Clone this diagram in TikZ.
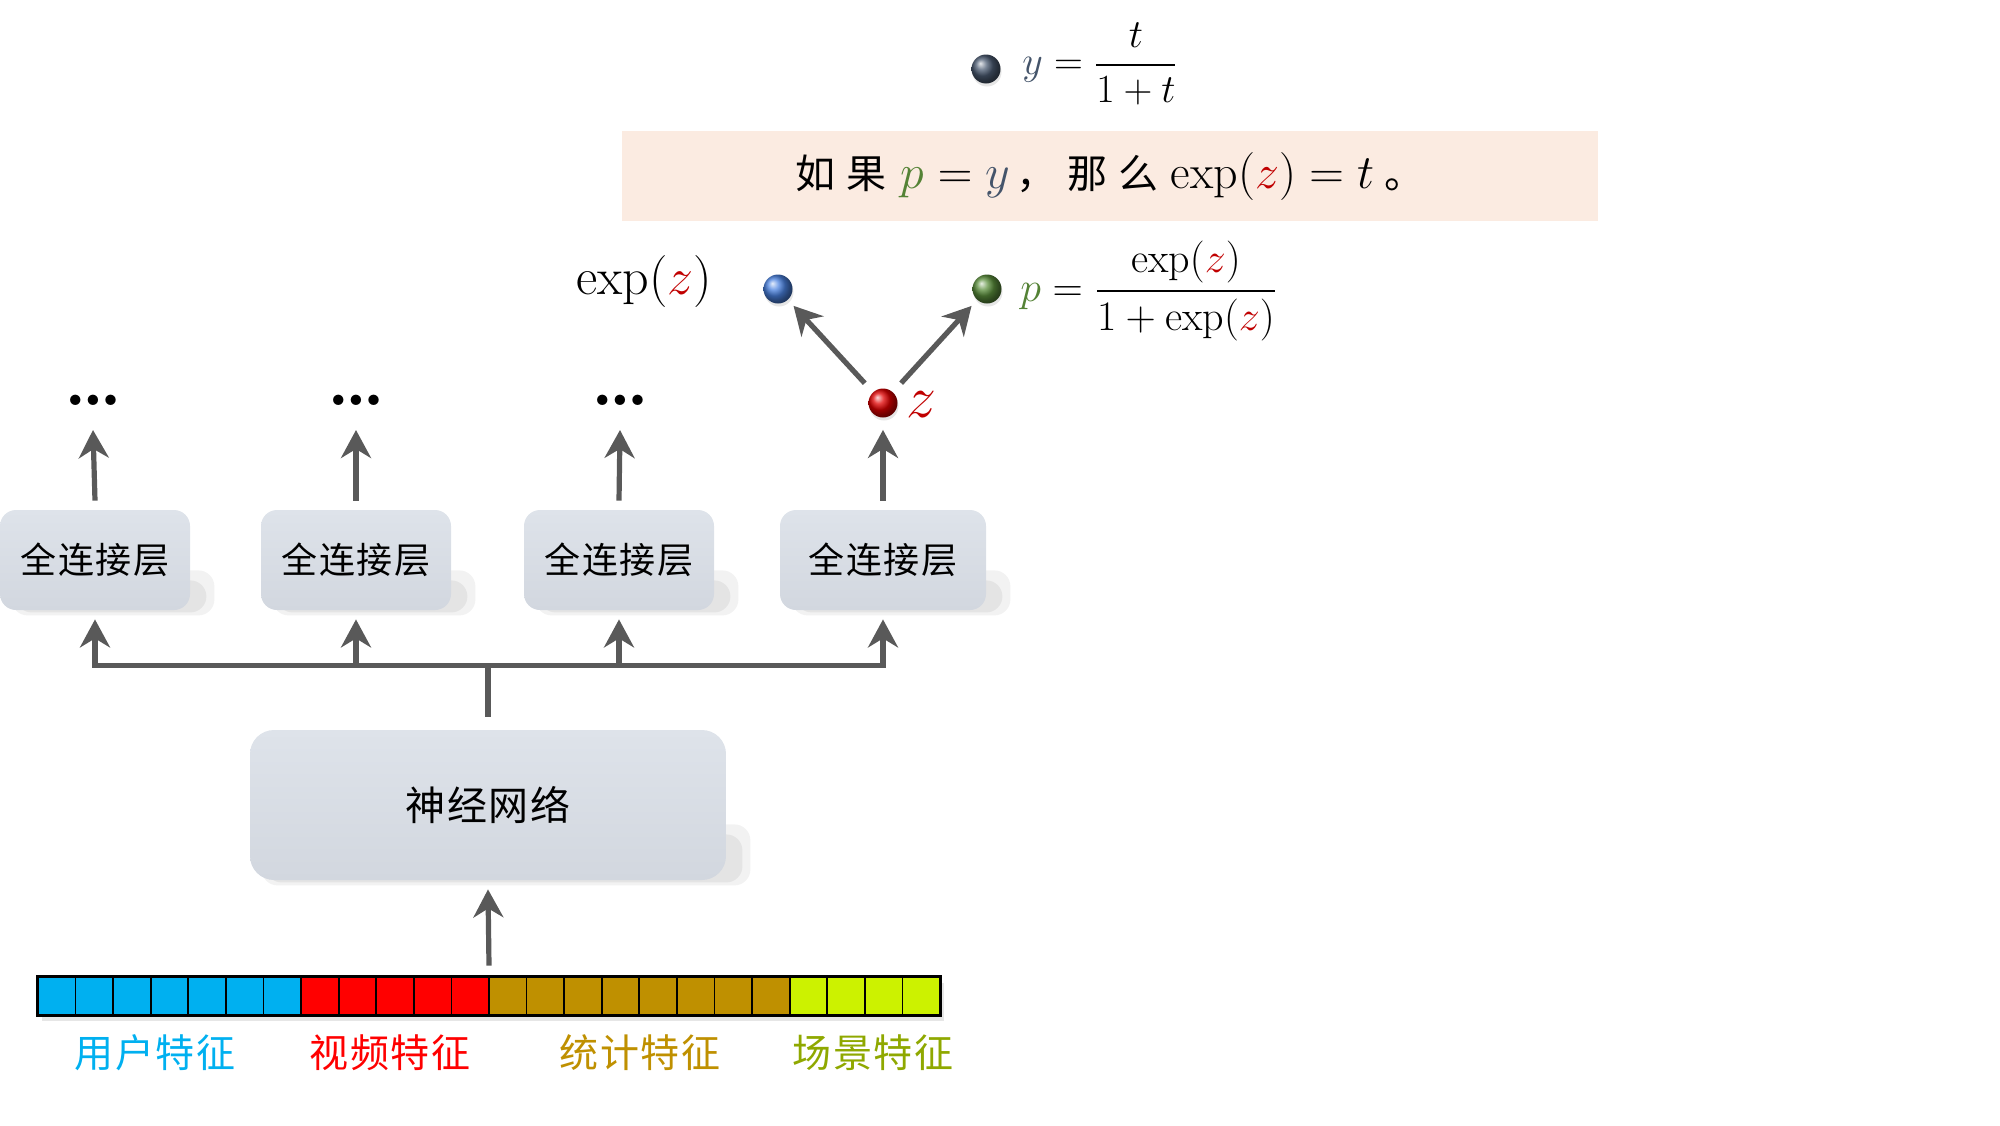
\documentclass[tikz,border=0pt]{standalone}
\usepackage{fix-cm}
\usepackage{amsmath}
\usepackage{fontspec}
\newfontfamily\cjk{Noto Sans CJK SC}
\newfontfamily\cjksp[LetterSpace=28]{Noto Sans CJK SC}
\newfontfamily\cjkfc[LetterSpace=4]{Noto Sans CJK SC}
\usetikzlibrary{arrows.meta,shadows,calc,backgrounds}
\definecolor{arrc}{HTML}{595959}
\definecolor{boxtop}{HTML}{DEE3EA}
\definecolor{boxbot}{HTML}{D2D7DF}
\definecolor{peach}{HTML}{FBEBE1}
\definecolor{yc}{HTML}{44546A}
\definecolor{pc}{HTML}{548235}
\definecolor{zc}{HTML}{C00000}
\definecolor{fblue}{HTML}{00B0F0}
\definecolor{fred}{HTML}{FF0000}
\definecolor{fgold}{HTML}{BF9000}
\definecolor{flime}{HTML}{CCF200}
\definecolor{lolive}{HTML}{8FA800}
\definecolor{ballslate}{HTML}{4B5B72}
\definecolor{ballblue}{HTML}{4A82E0}
\definecolor{ballgreen}{HTML}{5B8F3C}
\definecolor{ballred}{HTML}{E00000}
\newcommand\boxshadow[2]{%
  \fill[black,opacity=0.05,rounded corners=8pt] ([xshift=6pt,yshift=-2.5pt]#1.south west) rectangle ([xshift=12pt,yshift=#2]#1.south east);
  \fill[black,opacity=0.06,rounded corners=8pt] ([xshift=8pt,yshift=-1pt]#1.south west) rectangle ([xshift=8pt,yshift=#2-5pt]#1.south east);}
\begin{document}
\begin{tikzpicture}[x=0.5pt,y=-0.5pt,
  arr/.style={draw=arrc, line width=2.6pt, -{Stealth[length=14pt,width=15pt,inset=4.5pt]}},
  busl/.style={draw=arrc, line width=2.6pt},
  fcbox/.style={rounded corners=8pt, top color=boxtop, bottom color=boxbot,
    minimum height=50pt, inner sep=0pt, font=\cjkfc\fontsize{18}{20}\selectfont},
  nnbox/.style={rounded corners=12pt, top color=boxtop, bottom color=boxbot,
    minimum width=238pt, minimum height=75pt, inner sep=0pt,
    font=\cjkfc\fontsize{20}{22}\selectfont},
  ballnode/.style={circle, inner sep=0pt, minimum size=14.5pt, shading=ball, ball color=#1,
    drop shadow={shadow xshift=0.5pt,shadow yshift=-1.5pt,opacity=0.2}},
  dotsn/.style={anchor=south, inner sep=0pt, font=\fontsize{36}{38}\selectfont\bfseries},
  lab/.style={font=\cjkfc\fontsize{19.5}{22}\selectfont, inner sep=0pt}
]
\useasboundingbox (0,0) rectangle (2000,1125);

% top formula
\node[ballnode=ballslate] (sb) at (986,69) {};
\node[anchor=west, inner sep=0pt, font=\fontsize{20}{24}\selectfont] (fy) at (1022,64)
  {$\textcolor{yc}{y}=\dfrac{t}{1+t}$};

% peach box
\node[fill=peach, minimum width=488pt, minimum height=45pt, inner sep=0pt,
  font=\fontsize{24}{28}\selectfont] (pb) at (1110,176)
  {{\cjksp\fontsize{20}{24}\selectfont 如果}\hspace{7pt}$\textcolor{pc}{p}=\textcolor{yc}{y}$\hspace{3pt}{\cjksp\fontsize{20}{24}\selectfont ，那么}\hspace{6pt}$\exp(\textcolor{zc}{z})=t$\hspace{5pt}{\cjk\fontsize{20}{24}\selectfont 。}};

% balls and formulas
\node[font=\fontsize{26}{30}\selectfont, inner sep=0pt] (el) at (644,281) {$\exp(\textcolor{zc}{z})$};
\node[ballnode=ballblue] (bb) at (778,289) {};
\node[ballnode=ballgreen] (gb) at (987,289) {};
\node[anchor=west, inner sep=0pt, font=\fontsize{21}{25}\selectfont] (pf) at (1020,291)
  {$\textcolor{pc}{p}=\dfrac{\exp(\textcolor{zc}{z})}{1+\exp(\textcolor{zc}{z})}$};
\node[ballnode=ballred] (zb) at (883,403) {};
\node[anchor=west, inner sep=0pt, text=zc, font=\fontsize{30}{32}\selectfont] (zl) at (906,405) {$z$};

\draw[arr, shorten <=6pt, shorten >=4pt] (zb) -- (bb);
\draw[arr, shorten <=6pt, shorten >=4pt] (zb) -- (gb);

% fully connected boxes
\node[fcbox, minimum width=95pt] (f1) at (95,560) {全连接层};
\node[fcbox, minimum width=95pt] (f2) at (356,560) {全连接层};
\node[fcbox, minimum width=95pt] (f3) at (619,560) {全连接层};
\node[fcbox, minimum width=103pt] (f4) at (883,560) {全连接层};

\node[dotsn] (d1) at (93,406) {\ldots};
\node[dotsn] (d2) at (356,406) {\ldots};
\node[dotsn] (d3) at (620,406) {\ldots};

\foreach \i in {1,2,3} {
  \draw[arr] ([yshift=4.5pt]f\i.north) -- ([yshift=-12pt]d\i.south);
}
\draw[arr, shorten >=6pt] ([yshift=4.5pt]f4.north) -- (zb);

% neural network
\node[nnbox] (nn) at (488,805) {神经网络};
\path (nn.north) ++(0,-64) coordinate (bus);

\begin{scope}[on background layer]
  \boxshadow{f1}{20pt}
  \boxshadow{f2}{20pt}
  \boxshadow{f3}{20pt}
  \boxshadow{f4}{20pt}
  \boxshadow{nn}{28pt}
\end{scope}

\draw[busl, line cap=rect] (f1.south |- bus) -- (f4.south |- bus);
\foreach \i in {1,2,3,4} {
  \draw[arr] (f\i.south |- bus) -- ([yshift=-4.5pt]f\i.south);
}
\draw[busl] (bus) -- ([yshift=6.5pt]nn.north);

% feature bar
\node[fill=white, minimum width=451pt, minimum height=19pt, inner sep=0pt,
  drop shadow={shadow xshift=2pt,shadow yshift=-3pt,opacity=0.2}] (bar) at (489,996) {};
\foreach \i in {0,...,23} {
  \pgfmathsetmacro\xa{38+37.5833*\i}
  \ifnum\i<7 \def\cc{fblue}\else\ifnum\i<12 \def\cc{fred}\else\ifnum\i<20 \def\cc{fgold}\else\def\cc{flime}\fi\fi\fi
  \fill[\cc] (\xa,977) rectangle ++(37.5833,38);
}
\foreach \i in {1,...,23} {
  \draw[line width=0.9pt] (38+37.5833*\i,977) -- ++(0,38);
}
\draw[line width=1.6pt] (bar.north west) rectangle (bar.south east);

\draw[arr] ([yshift=5.5pt]bar.north) -- ([yshift=-4.5pt]nn.south);

% labels
\node[lab, text=fblue] (l1) at (155,1053) {用户特征};
\node[lab, text=fred] (l2) at (390,1053) {视频特征};
\node[lab, text=fgold] (l3) at (640,1053) {统计特征};
\node[lab, text=lolive] (l4) at (873,1053) {场景特征};
\end{tikzpicture}
\end{document}
